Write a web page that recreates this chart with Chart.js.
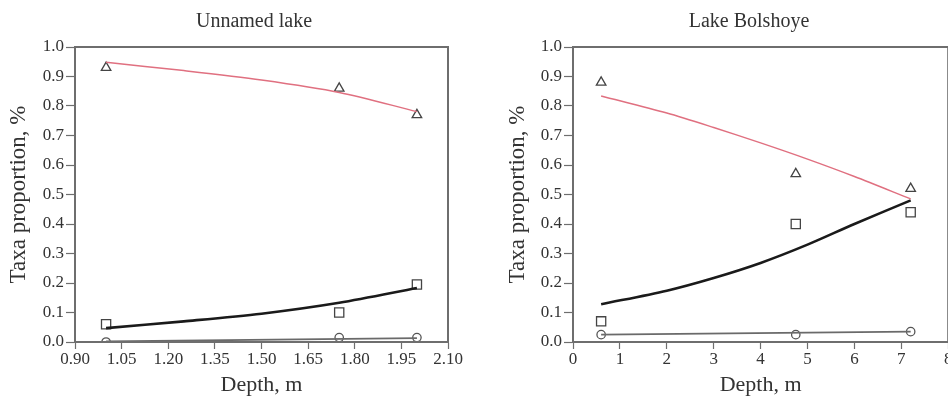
<!DOCTYPE html>
<html>
<head>
<meta charset="utf-8">
<script src="https://cdn.jsdelivr.net/npm/chart.js@4/dist/chart.umd.min.js"></script>
<style>
  html, body { margin: 0; padding: 0; background: #fff; overflow: hidden; width: 948px; height: 402px; }
  #c1 { position: absolute; left: 0; top: 0; }
  #c2 { position: absolute; left: 474px; top: 0; }
</style>
</head>
<body>
<canvas id="c1" width="474" height="402"></canvas>
<canvas id="c2" width="482" height="402"></canvas>
<script>
// Unnamed lake - observed points
var depth1 = [1.00, 1.75, 2.00];
var tri1 = [0.93, 0.86, 0.77];
var sq1 = [0.06, 0.10, 0.195];
var circ1 = [0.00, 0.015, 0.015];
// fitted curves
var fitX1 = [1.00, 1.25, 1.50, 1.75, 2.00];
var fitTri1 = [0.948, 0.920, 0.888, 0.846, 0.781];
var fitSq1 = [0.047, 0.070, 0.096, 0.133, 0.183];
var fitCircX1 = [1.00, 2.00];
var fitCirc1 = [0.002, 0.013];

// Lake Bolshoye
var depth2 = [0.6, 4.75, 7.2];
var tri2 = [0.88, 0.57, 0.52];
var sq2 = [0.07, 0.40, 0.44];
var circ2 = [0.025, 0.025, 0.035];
var fitX2 = [0.6, 2, 3, 4, 5, 6, 7.2];
var fitTri2 = [0.834, 0.776, 0.727, 0.675, 0.620, 0.561, 0.485];
var fitSq2 = [0.128, 0.174, 0.217, 0.268, 0.330, 0.400, 0.480];
var fitCircX2 = [0.6, 7.2];
var fitCirc2 = [0.025, 0.035];

var serif = "'Liberation Serif', 'DejaVu Serif', serif";
var axisGray = "#6e6e6e";
var txt = "#333";

function pts(xs, ys) {
  return xs.map(function (x, i) { return { x: x, y: ys[i] }; });
}

// box around the plot area
var frame = {
  id: "frame",
  afterDatasetsDraw: function (chart) {
    var a = chart.chartArea, ctx = chart.ctx;
    ctx.save();
    ctx.strokeStyle = axisGray;
    ctx.lineWidth = 2;
    ctx.strokeRect(a.left, a.top, a.right - a.left, a.bottom - a.top);
    ctx.restore();
  }
};

// panel heading, placed where the original has it
var heading = {
  id: "heading",
  afterDraw: function (chart, args, o) {
    var ctx = chart.ctx;
    ctx.save();
    ctx.font = "20px " + serif;
    ctx.fillStyle = txt;
    ctx.textAlign = "center";
    ctx.textBaseline = "middle";
    ctx.fillText(o.text, o.x, o.y);
    ctx.restore();
  }
};

function makeChart(id, title, d, opt) {
  return new Chart(id, {
    type: "scatter",
    data: {
      datasets: [
        { data: pts(d.fx, d.ftri), showLine: true, pointRadius: 0, borderColor: "#e07080", borderWidth: 1.5, tension: 0.3 },
        { data: pts(d.fx, d.fsq), showLine: true, pointRadius: 0, borderColor: "#1a1a1a", borderWidth: 2.6, tension: 0.3 },
        { data: pts(d.fcx, d.fcirc), showLine: true, pointRadius: 0, borderColor: "#6a6a6a", borderWidth: 1.8 },
        { data: pts(d.x, d.tri), pointStyle: "triangle", pointRadius: 5.5, backgroundColor: "#fff", borderColor: "#444", borderWidth: 1.3 },
        { data: pts(d.x, d.sq), pointStyle: "rect", pointRadius: 6.5, backgroundColor: "#fff", borderColor: "#444", borderWidth: 1.3 },
        { data: pts(d.x, d.circ), pointStyle: "circle", pointRadius: 4.2, backgroundColor: "#fff", borderColor: "#555", borderWidth: 1.3 }
      ]
    },
    options: {
      responsive: false,
      animation: false,
      layout: { padding: { left: 0, right: opt.padRight, top: 47, bottom: 0 } },
      plugins: {
        legend: { display: false },
        tooltip: { enabled: false },
        title: { display: false },
        heading: { text: title, x: opt.titleX, y: 22 }
      },
      scales: {
        x: {
          type: "linear", min: opt.xmin, max: opt.xmax,
          afterFit: function (s) { s.height = 60; },
          ticks: {
            stepSize: opt.xstep, color: txt, padding: 0, maxRotation: 0, autoSkip: false,
            font: { family: serif, size: 17 },
            callback: function (v) { return v.toFixed(opt.xdec); }
          },
          grid: { drawOnChartArea: false, drawTicks: true, tickLength: 7, tickColor: axisGray, tickWidth: 1.2 },
          border: { color: axisGray, width: 2 },
          title: { display: true, text: "Depth, m", color: txt, font: { family: serif, size: 22 }, padding: { top: 0, bottom: 4 } }
        },
        y: {
          min: 0, max: 1,
          afterFit: function (s) { s.width = opt.yWidth; },
          ticks: {
            stepSize: 0.1, color: txt, padding: 2,
            font: { family: serif, size: 17 },
            callback: function (v) { return v.toFixed(1); }
          },
          grid: { drawOnChartArea: false, drawTicks: true, tickLength: 9, tickColor: axisGray, tickWidth: 1.2 },
          border: { color: axisGray, width: 2 },
          title: { display: true, text: "Taxa proportion, %", color: txt, font: { family: serif, size: 23 }, padding: { top: opt.yTitlePad, bottom: 0 } }
        }
      }
    },
    plugins: [frame, heading]
  });
}

makeChart("c1", "Unnamed lake",
  { x: depth1, tri: tri1, sq: sq1, circ: circ1, fx: fitX1, ftri: fitTri1, fsq: fitSq1, fcx: fitCircX1, fcirc: fitCirc1 },
  { xmin: 0.9, xmax: 2.1, xstep: 0.15, xdec: 2, yWidth: 75, padRight: 26, yTitlePad: 5, titleX: 254 });

makeChart("c2", "Lake Bolshoye",
  { x: depth2, tri: tri2, sq: sq2, circ: circ2, fx: fitX2, ftri: fitTri2, fsq: fitSq2, fcx: fitCircX2, fcirc: fitCirc2 },
  { xmin: 0, xmax: 8, xstep: 1, xdec: 0, yWidth: 99, padRight: 6, yTitlePad: 30, titleX: 275 });
</script>
</body>
</html>
